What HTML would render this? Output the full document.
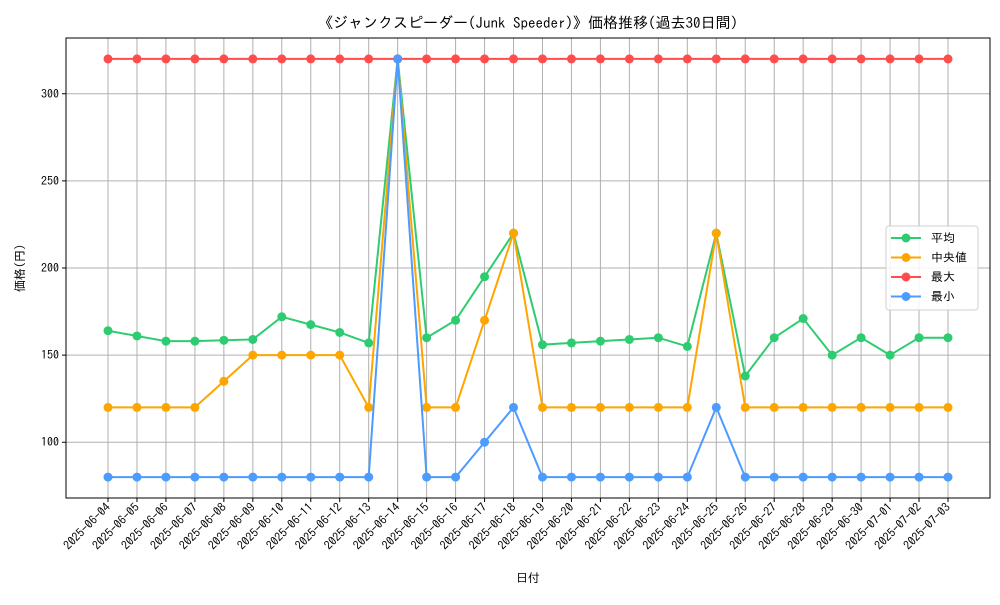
<!DOCTYPE html>
<html><head><meta charset="utf-8"><style>
body{margin:0;background:#fff}
svg{font-family:"IPAGothic","Liberation Sans","Noto Sans CJK JP",sans-serif}
</style></head><body>
<svg id="chart" width="1000" height="600" xmlns="http://www.w3.org/2000/svg">
<rect width="1000" height="600" fill="#fff"/>
<text x="528" y="28" text-anchor="middle" font-size="15">《ジャンクスピーダー(Junk Speeder)》価格推移(過去30日間)</text>
<g id="grid"></g>
<g id="series"></g>
<rect x="66" y="38" width="924" height="460" fill="none" stroke="#000" stroke-width="1"/>
<g id="axes"></g>
<text x="528" y="582" text-anchor="middle" font-size="12">日付</text>
<text transform="translate(24,268) rotate(-90)" text-anchor="middle" font-size="12">価格(円)</text>
<g id="legend"></g>
</svg>
<script>
const dates=["2025-06-04","2025-06-05","2025-06-06","2025-06-07","2025-06-08","2025-06-09","2025-06-10","2025-06-11","2025-06-12","2025-06-13","2025-06-14","2025-06-15","2025-06-16","2025-06-17","2025-06-18","2025-06-19","2025-06-20","2025-06-21","2025-06-22","2025-06-23","2025-06-24","2025-06-25","2025-06-26","2025-06-27","2025-06-28","2025-06-29","2025-06-30","2025-07-01","2025-07-02","2025-07-03"];
const avgValues=[164,161,158,158,158.5,159,172,167.5,163,157,320,160,170,195,220,156,157,158,159,160,155,220,138,160,171,150,160,150,160,160];
const medianValues=[120,120,120,120,135,150,150,150,150,120,320,120,120,170,220,120,120,120,120,120,120,220,120,120,120,120,120,120,120,120];
const maxValues=[320,320,320,320,320,320,320,320,320,320,320,320,320,320,320,320,320,320,320,320,320,320,320,320,320,320,320,320,320,320];
const minValues=[80,80,80,80,80,80,80,80,80,80,320,80,80,100,120,80,80,80,80,80,80,120,80,80,80,80,80,80,80,80];
const yTicks=[100,150,200,250,300];
const NS="http://www.w3.org/2000/svg";
const L=66,R=990,T=38,B=498,yMin=68,yMax=332;
const xPad=(R-L)/(dates.length-1+2*0.05*(dates.length-1))*0.05*(dates.length-1);
function xs(i){return L+xPad+i*(R-L-2*xPad)/(dates.length-1);}
function ys(v){return B-(v-yMin)/(yMax-yMin)*(B-T);}
function mk(t,a,p){const e=document.createElementNS(NS,t);for(const k in a)e.setAttribute(k,a[k]);p.appendChild(e);return e;}
const grid=document.getElementById('grid'),axes=document.getElementById('axes');
dates.forEach((d,i)=>{
 const x=xs(i);
 const g=mk('line',{x1:x,x2:x,y1:T,y2:B,stroke:'#b0b0b0','stroke-width':1},grid);
 
 
 mk('line',{x1:x,x2:x,y1:B,y2:B+4,stroke:'#000'},axes);
 const t=mk('text',{x:x+3,y:B+10,'font-size':12,'text-anchor':'end',transform:`rotate(-45 ${x+3} ${B+10})`},axes);
 
 
 t.textContent=d;
});
yTicks.forEach(v=>{
 const y=ys(v);
 const g=mk('line',{x1:L,x2:R,y1:y,y2:y,stroke:'#b0b0b0','stroke-width':1},grid);
 
 
 mk('line',{x1:L-4,x2:L,y1:y,y2:y,stroke:'#000'},axes);
 const t=mk('text',{x:L-7,y:y+4,'font-size':12,'text-anchor':'end'},axes);
 
 
 t.textContent=v;
});
const series=[["平均",avgValues,"#2ecc71","avg"],["中央値",medianValues,"#ffa500","median"],["最大",maxValues,"#ff4c4c","max"],["最小",minValues,"#4c9bff","min"]];
const sg=document.getElementById('series');
series.forEach(([n,vals,c,k])=>{
 const g=mk('g',{},sg);
 
 
 const p=mk('polyline',{points:vals.map((v,i)=>xs(i)+','+ys(v)).join(' '),fill:'none',stroke:c,'stroke-width':2},g);
 
 
 vals.forEach((v,i)=>{
  const m=mk('circle',{cx:xs(i),cy:ys(v),r:4.5,fill:c},g);
  
  
 });
});
const lg=document.getElementById('legend');
mk('rect',{x:886,y:226,width:92,height:84,rx:3,fill:'#fff','fill-opacity':0.85,stroke:'#d0d0d0'},lg);
series.forEach(([n,vals,c,k],j)=>{
 const y=238+j*19.5;
 const e=mk('g',{},lg);
 
 
 mk('line',{x1:891,x2:921,y1:y,y2:y,stroke:c,'stroke-width':2},e);
 mk('circle',{cx:906,cy:y,r:4.5,fill:c},e);
 const t=mk('text',{x:931,y:y+4,'font-size':12},e);
 t.textContent=(k==='median'?' ':'')+n;
});
</script>
</body></html>
